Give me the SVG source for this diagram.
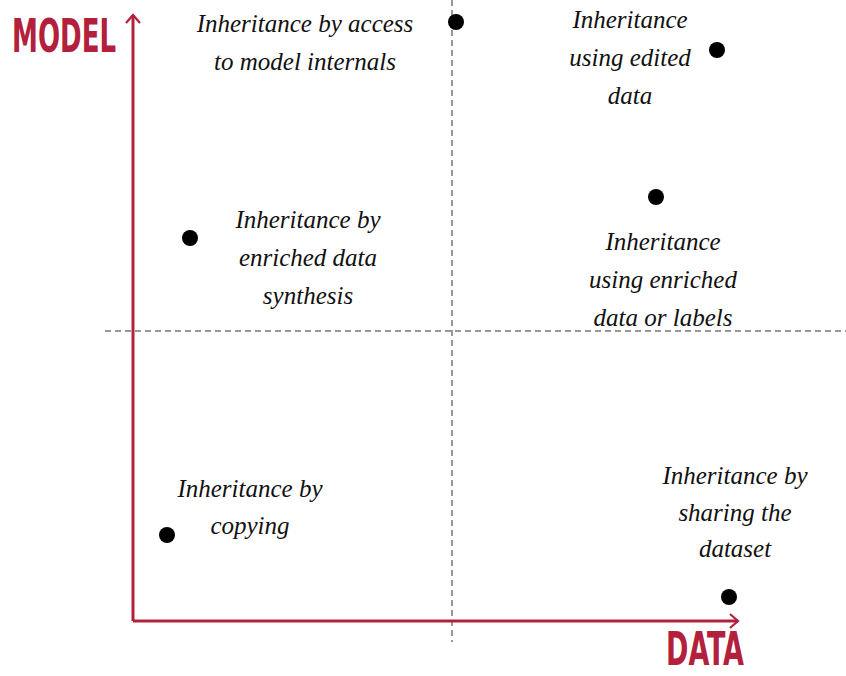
<svg xmlns="http://www.w3.org/2000/svg" width="846" height="676" viewBox="0 0 846 676">
<defs>
<style>
.lbl{font-family:'Liberation Serif','Times New Roman',serif;font-style:italic;font-size:25px;fill:#111;text-anchor:middle}
.ax{font-family:'DejaVu Sans Condensed','DejaVu Sans',sans-serif;font-weight:bold;font-size:46px;fill:#b3203b}
.dash{stroke:#777;stroke-width:1.5;stroke-dasharray:6,4;fill:none}
.axis{stroke:#b3203b;stroke-width:3;fill:none}
.dot{fill:#000}
</style>
<marker id="arr" viewBox="0 0 12 16" refX="10" refY="8" markerWidth="12" markerHeight="16" markerUnits="userSpaceOnUse" orient="auto">
<path d="M2,1 L10,8 L2,15" fill="none" stroke="#b3203b" stroke-width="2.2"/>
</marker>
</defs>
<rect width="846" height="676" fill="#fff"/>
<g id="connectors">
<line class="dash" x1="452" y1="0" x2="452" y2="642"/>
<line class="dash" x1="105" y1="331" x2="846" y2="331"/>
<line class="axis" x1="133" y1="621" x2="133" y2="15" marker-end="url(#arr)"/>
<line class="axis" x1="133" y1="621" x2="738" y2="621" marker-end="url(#arr)"/>
</g>
<g id="axis-model"><text class="ax" x="12" y="52" textLength="104" lengthAdjust="spacingAndGlyphs">MODEL</text></g>
<g id="axis-data"><text class="ax" x="666" y="665" font-size="44" textLength="78" lengthAdjust="spacingAndGlyphs">DATA</text></g>
<g id="n1"><circle class="dot" cx="456" cy="22" r="8"/><text class="lbl" x="305" y="32">Inheritance by access</text><text class="lbl" x="305" y="70">to model internals</text></g>
<g id="n2"><circle class="dot" cx="717" cy="50" r="8"/><text class="lbl" x="630" y="28">Inheritance</text><text class="lbl" x="630" y="66">using edited</text><text class="lbl" x="630" y="104">data</text></g>
<g id="n3"><circle class="dot" cx="190" cy="238" r="8"/><text class="lbl" x="308" y="228">Inheritance by</text><text class="lbl" x="308" y="266">enriched data</text><text class="lbl" x="308" y="304">synthesis</text></g>
<g id="n4"><circle class="dot" cx="656" cy="197" r="8"/><text class="lbl" x="663" y="250">Inheritance</text><text class="lbl" x="663" y="288">using enriched</text><text class="lbl" x="663" y="326">data or labels</text></g>
<g id="n5"><circle class="dot" cx="167" cy="535" r="8"/><text class="lbl" x="250" y="497">Inheritance by</text><text class="lbl" x="250" y="534">copying</text></g>
<g id="n6"><circle class="dot" cx="729" cy="597" r="8"/><text class="lbl" x="735" y="484">Inheritance by</text><text class="lbl" x="735" y="521">sharing the</text><text class="lbl" x="735" y="557">dataset</text></g>
</svg>
